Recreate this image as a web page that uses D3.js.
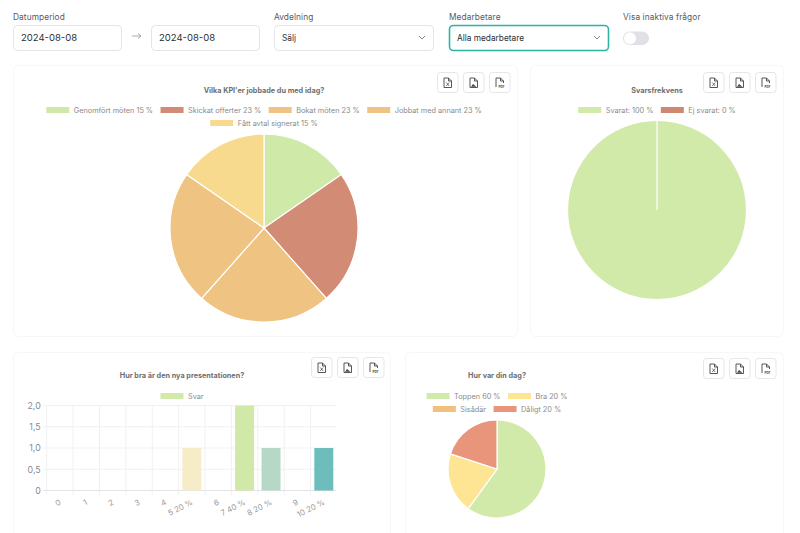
<!DOCTYPE html>
<html>
<head>
<meta charset="utf-8">
<script src="https://cdn.jsdelivr.net/npm/d3@7"></script>
<style>
  html, body { margin: 0; padding: 0; background: #fff; overflow: hidden; }
  svg { display: block; }
  text { font-family: Inter, "Noto Sans", sans-serif; }
</style>
</head>
<body>
<svg id="page" width="800" height="533"></svg>
<script>
// values
const kpiLabels = ["Genomfört möten", "Skickat offerter", "Bokat möten", "Jobbat med annant", "Fått avtal signerat"];
const kpiCounts = [2, 3, 3, 3, 2];
const kpiPercent = [15, 23, 23, 23, 15];
const kpiColors = ["#cfe9a9", "#d28b74", "#efc381", "#efc381", "#f7da8e"];

const svarLabels = ["Svarat:", "Ej svarat:"];
const svarValues = [100, 0];
const svarColors = ["#d1eaaa", "#cf8870"];

const presCategories = ["0", "1", "2", "3", "4", "5 20 %", "6", "7 40 %", "8 20 %", "9", "10 20 %"];
const presValues = [0, 0, 0, 0, 0, 1, 0, 2, 1, 0, 1];
const presColors = ["#eee", "#eee", "#eee", "#eee", "#eee", "#f7ecc8", "#eee", "#d0e9a8", "#b6d8c6", "#eee", "#6dbdbc"];
const presTicks = [0, 0.5, 1, 1.5, 2];

const dagLabels = ["Toppen 60 %", "Bra 20 %", "Sisådär", "Dåligt 20 %"];
const dagValues = [60, 20, 0, 20];
const dagColors = ["#d1eaaa", "#fde594", "#f1c07e", "#e9957b"];

const svg = d3.select("#page");

// filter row
function label(x, t) {
  svg.append("text").attr("x", x).attr("y", 19.5).attr("font-size", 8.3).attr("fill", "#555b66").attr("letter-spacing", 0.1).text(t);
}
function field(x, w, t, size, active) {
  svg.append("rect").attr("x", x + 0.5).attr("y", 25.5).attr("width", w).attr("height", 25).attr("rx", 4)
    .attr("fill", "#fff").attr("stroke", active ? "#2bb5a5" : "#e2e4e8").attr("stroke-width", active ? 1.6 : 1);
  svg.append("text").attr("x", x + 8).attr("y", 41.3).attr("font-size", size).attr("fill", "#2b2f36").text(t);
}
function chevron(x) {
  svg.append("path").attr("d", `M${x - 3},36 L${x},39 L${x + 3},36`).attr("fill", "none").attr("stroke", "#777").attr("stroke-width", 0.9);
}
label(13, "Datumperiod");
label(274, "Avdelning");
label(449, "Medarbetare");
label(623, "Visa inaktiva frågor");
field(13, 108, "2024-08-08", 9.5);
field(151, 108, "2024-08-08", 9.5);
field(274, 159, "Sälj", 8.3);
field(449, 159, "Alla medarbetare", 8.3, true);
chevron(422);
chevron(597);
svg.append("path").attr("d", "M132,36 H141 M138,33.5 L141,36 L138,38.5").attr("fill", "none").attr("stroke", "#999").attr("stroke-width", 0.8);
svg.append("rect").attr("x", 623).attr("y", 31.5).attr("width", 26).attr("height", 13.5).attr("rx", 6.7).attr("fill", "#dfe1e7");
svg.append("circle").attr("cx", 630).attr("cy", 38.2).attr("r", 6).attr("fill", "#fff");

// cards
function card(x, y, w, h) {
  svg.append("rect").attr("x", x + 0.5).attr("y", y + 0.5).attr("width", w).attr("height", h).attr("rx", 5)
    .attr("fill", "#fff").attr("stroke", "#f7f7f9");
}
function exportButtons(xs, y) {
  xs.forEach((x, i) => {
    const g = svg.append("g").attr("transform", `translate(${x},${y})`);
    g.append("rect").attr("x", 0.5).attr("y", 0.5).attr("width", 20.5).attr("height", 20).attr("rx", 3)
      .attr("fill", "#fff").attr("stroke", "#e5e6ea");
    const body = i === 2 ? "M7,15 V6 H11.5 L14.5,9 V11 M11.5,6 V9 H14.5" : "M7,6 H11.5 L14.5,9 V15.5 H7 Z M11.5,6 V9 H14.5";
    g.append("path").attr("d", body).attr("fill", "none").attr("stroke", "#444").attr("stroke-width", 0.9);
    if (i === 0) g.append("path").attr("d", "M9.3,10.5 L12.2,14 M12.2,10.5 L9.3,14").attr("stroke", "#444").attr("stroke-width", 0.7);
    if (i === 1) g.append("path").attr("d", "M8,14.7 L10,12 L13.5,14.7 Z").attr("fill", "#444");
    if (i === 2) g.append("text").attr("x", 12.5).attr("y", 15.5).attr("font-size", 3).attr("font-weight", 700).attr("fill", "#444").attr("text-anchor", "middle").text("PDF");
  });
}
function title(cx, y, t) {
  svg.append("text").attr("x", cx).attr("y", y).attr("text-anchor", "middle").attr("font-size", 7.25).attr("font-weight", 700).attr("fill", "#6e6e6e").text(t);
}
// centred legend rows, widths come from the rendered text
function legend(cx, y, rows) {
  rows.forEach((row, r) => {
    const g = svg.append("g");
    let x = 0;
    row.forEach(d => {
      g.append("rect").attr("x", x).attr("y", -3).attr("width", 23).attr("height", 6).attr("fill", d.color);
      const t = g.append("text").attr("x", x + 27.5).attr("y", 2.7).attr("font-size", 7.3).attr("fill", "#8a8a8a").text(d.text);
      x += 27.5 + t.node().getComputedTextLength() + 7.5;
    });
    g.attr("transform", `translate(${cx - (x - 7.5) / 2},${y + r * 13})`);
  });
}
function pie(cx, cy, r, values, colors) {
  const arcs = d3.pie().sort(null)(values);
  const arc = d3.arc().innerRadius(0).outerRadius(r);
  svg.append("g").attr("transform", `translate(${cx},${cy})`)
    .selectAll("path").data(arcs).join("path")
    .attr("d", arc).attr("fill", (d, i) => colors[i])
    .attr("stroke", "#fff").attr("stroke-width", 1.2);
}

card(13, 65, 504, 271);
card(530, 65, 253, 271);
card(13, 352, 377, 190);
card(405, 352, 378, 190);

exportButtons([437, 463, 489], 72);
exportButtons([703, 729, 755], 72);
exportButtons([311, 337, 363], 357);
exportButtons([703, 729, 755], 358);

// KPI pie
title(264, 92.5, "Vilka KPI'er jobbade du med idag?");
const kpiItems = kpiLabels.map((l, i) => ({ text: `${l} ${kpiPercent[i]} %`, color: kpiColors[i] }));
legend(264, 110, [kpiItems.slice(0, 4), kpiItems.slice(4)]);
pie(264, 228, 94, kpiCounts, kpiColors);

// response rate pie
title(657, 92.5, "Svarsfrekvens");
legend(657, 110, [svarLabels.map((l, i) => ({ text: `${l} ${svarValues[i]} %`, color: svarColors[i] }))]);
pie(657, 210, 89.5, svarValues, svarColors);

// bar chart
title(182, 378, "Hur bra är den nya presentationen?");
legend(182, 396, [[{ text: "Svar", color: "#d1eaaa" }]]);
const x = d3.scaleBand().domain(presCategories).range([46.7, 337]).paddingInner(0.28).paddingOuter(0.14);
const y = d3.scaleLinear().domain([0, 2]).range([490.5, 405.5]);
const step = x.step();
const plot = svg.append("g");
plot.selectAll("line.gx").data(d3.range(presCategories.length)).join("line")
  .attr("x1", i => 46.7 + i * step).attr("x2", i => 46.7 + i * step)
  .attr("y1", 405.5).attr("y2", 495).attr("stroke", "#eeeef1").attr("stroke-width", 0.8);
const yAxis = d3.axisLeft(y).tickValues(presTicks).tickSize(0).tickPadding(6)
  .tickFormat(d => d === 0 ? "0" : d3.format(".1f")(d).replace(".", ","));
const yg = svg.append("g").attr("transform", "translate(46.7,0)").call(yAxis);
yg.select(".domain").remove();
yg.selectAll("text").attr("font-size", 8.8).attr("fill", "#8a8a8a").attr("font-family", "Inter");
plot.selectAll("line.gy").data(presTicks).join("line")
  .attr("x1", 43).attr("x2", 336).attr("y1", d => y(d)).attr("y2", d => y(d))
  .attr("stroke", d => d === 0 ? "#dcdde1" : "#eeeef1").attr("stroke-width", 0.8);
svg.append("g").selectAll("rect").data(presCategories).join("rect")
  .attr("x", d => x(d)).attr("width", x.bandwidth())
  .attr("y", (d, i) => y(presValues[i])).attr("height", (d, i) => y(0) - y(presValues[i]))
  .attr("fill", (d, i) => presColors[i]);
const xAxis = d3.axisBottom(x).tickSize(0).tickPadding(0);
const xg = svg.append("g").attr("transform", "translate(0,490.5)").call(xAxis);
xg.select(".domain").remove();
xg.selectAll("text").attr("font-size", 7.8).attr("fill", "#9a9a9a").attr("font-family", "Inter")
  .attr("text-anchor", "end").attr("dy", 0)
  .attr("transform", "translate(1.5,13.5) rotate(-27)")
  .attr("y", 0).attr("x", 0);

// day pie
title(497, 378, "Hur var din dag?");
const dagItems = dagLabels.map((l, i) => ({ text: l, color: dagColors[i] }));
legend(497, 396, [dagItems.slice(0, 2), dagItems.slice(2)]);
pie(497, 469, 49, dagValues, dagColors);
</script>
</body>
</html>
